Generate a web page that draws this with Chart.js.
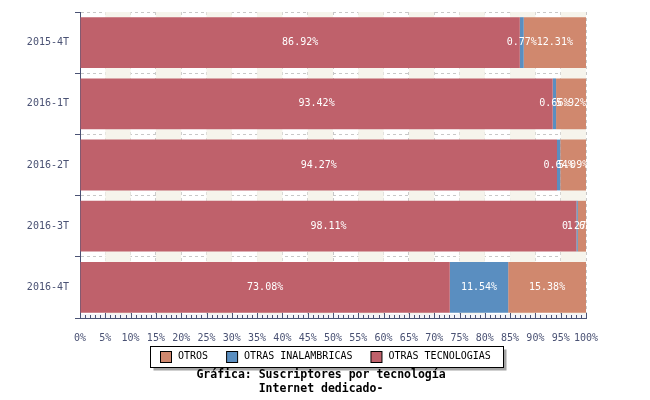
<!DOCTYPE html>
<html>
<head>
<meta charset="utf-8">
<script src="https://cdn.jsdelivr.net/npm/chart.js@4"></script>
<style>
  body { margin: 0; background: #fff; }
  #wrap { width: 650px; height: 400px; }
</style>
</head>
<body>
<div id="wrap"><canvas id="chart"></canvas></div>
<script>
// periods and shares (percent)
const periods = ['2015-4T', '2016-1T', '2016-2T', '2016-3T', '2016-4T'];
const otrasTecnologias = [86.92, 93.42, 94.27, 98.11, 73.08];
const otrasInalambricas = [0.77, 0.66, 0.64, 0.27, 11.54];
const otros = [12.31, 5.92, 5.09, 1.62, 15.38];

const MONO = '"DejaVu Sans Mono", monospace';
const AXIS = '#4a5274';

// alternating stripes behind the bars
const stripes = {
    id: 'stripes',
    beforeDatasetsDraw(chart) {
        const { ctx, chartArea, scales } = chart;
        ctx.save();
        ctx.fillStyle = '#f6f4ec';
        for (let v = 5; v < 100; v += 10) {
            const x1 = scales.x.getPixelForValue(v);
            const x2 = scales.x.getPixelForValue(v + 5);
            ctx.fillRect(x1, chartArea.top, x2 - x1, chartArea.bottom - chartArea.top);
        }
        ctx.restore();
    }
};

// boxed legend, value labels, minor ticks on the x axis
const extras = {
    id: 'extras',
    beforeDraw(chart) {
        const { ctx } = chart;
        const fx = 150.5, fy = 346.5, fw = 353, fh = 21;
        ctx.save();
        ctx.fillStyle = '#a4a4a4';
        ctx.fillRect(fx + 3, fy + 3, fw, fh);
        ctx.fillStyle = '#fff';
        ctx.fillRect(fx, fy, fw, fh);
        ctx.strokeStyle = '#000';
        ctx.lineWidth = 1;
        ctx.strokeRect(fx, fy, fw, fh);
        ctx.font = '10px ' + MONO;
        ctx.textAlign = 'left';
        ctx.textBaseline = 'middle';
        let x = 160;
        const cy = 356.5;
        chart.data.datasets.slice().reverse().forEach(ds => {
            ctx.fillStyle = ds.backgroundColor;
            ctx.fillRect(x + 0.5, cy - 5, 11, 11);
            ctx.strokeRect(x + 0.5, cy - 5, 11, 11);
            ctx.fillStyle = '#000';
            ctx.fillText(ds.label, x + 18, cy);
            x += 18 + ctx.measureText(ds.label).width + 18;
        });
        ctx.restore();
    },
    afterDatasetsDraw(chart) {
        const { ctx, chartArea, scales } = chart;
        ctx.save();
        // ticks at every 1%
        const yb = chartArea.bottom;
        ctx.fillStyle = '#f4f4f8';
        ctx.fillRect(chartArea.left, yb - 4, chartArea.right - chartArea.left, 4);
        ctx.strokeStyle = AXIS;
        ctx.lineWidth = 1;
        ctx.beginPath();
        for (let v = 0; v <= 100; v++) {
            const x = Math.round(scales.x.getPixelForValue(v)) + 0.5;
            ctx.moveTo(x, yb);
            ctx.lineTo(x, yb - (v % 5 === 0 ? 5 : 3));
        }
        ctx.stroke();
        // labels
        ctx.font = '10px ' + MONO;
        ctx.fillStyle = '#fff';
        ctx.textAlign = 'center';
        ctx.textBaseline = 'middle';
        chart.data.datasets.forEach((ds, i) => {
            chart.getDatasetMeta(i).data.forEach((bar, j) => {
                const p = bar.getCenterPoint();
                ctx.fillText(ds.data[j].toFixed(2) + '%', p.x, p.y);
            });
        });
        ctx.restore();
    }
};

new Chart(document.getElementById('chart'), {
    type: 'bar',
    data: {
        labels: periods,
        datasets: [
            { label: 'OTRAS TECNOLOGIAS', data: otrasTecnologias, backgroundColor: '#bf616b' },
            { label: 'OTRAS INALAMBRICAS', data: otrasInalambricas, backgroundColor: '#5a8ec0' },
            { label: 'OTROS', data: otros, backgroundColor: '#d0886e' }
        ]
    },
    options: {
        indexAxis: 'y',
        responsive: true,
        maintainAspectRatio: false,
        animation: false,
        barPercentage: 0.83,
        categoryPercentage: 1,
        layout: { padding: { top: 8, right: 8, bottom: 4, left: 0 } },
        scales: {
            x: {
                stacked: true,
                min: 0,
                max: 100,
                afterFit: s => { s.height = 50; },
                ticks: {
                    stepSize: 5,
                    callback: v => v + '%',
                    color: AXIS,
                    font: { family: MONO, size: 10 },
                    padding: 14,
                    maxRotation: 0,
                    autoSkip: false
                },
                grid: {
                    color: '#c8c8c8',
                    drawTicks: false,
                    tickLength: 0
                },
                border: { color: AXIS, dash: [3, 3], width: 1 }
            },
            y: {
                stacked: true,
                afterFit: s => { s.width = 80; },
                ticks: {
                    color: AXIS,
                    font: { family: MONO, size: 10 },
                    padding: 6
                },
                grid: {
                    offset: true,
                    color: '#c8c8c8',
                    tickColor: AXIS,
                    tickLength: 5,
                    tickBorderDash: []
                },
                border: { color: AXIS, dash: [3, 3], width: 1 }
            },
            // empty right-hand gutter
            gutter: {
                type: 'linear',
                position: 'right',
                afterFit: s => { s.width = 56; },
                ticks: { display: false },
                grid: { display: false },
                border: { display: false }
            }
        },
        plugins: {
            legend: { display: false },
            title: {
                display: true,
                position: 'bottom',
                text: ['Gráfica: Suscriptores por tecnología', 'Internet dedicado-'],
                color: '#000',
                font: { family: MONO, size: 11.5, weight: 'bold', lineHeight: '14px' },
                padding: 0
            },
            tooltip: { enabled: false }
        }
    },
    plugins: [stripes, extras]
});
</script>
</body>
</html>
